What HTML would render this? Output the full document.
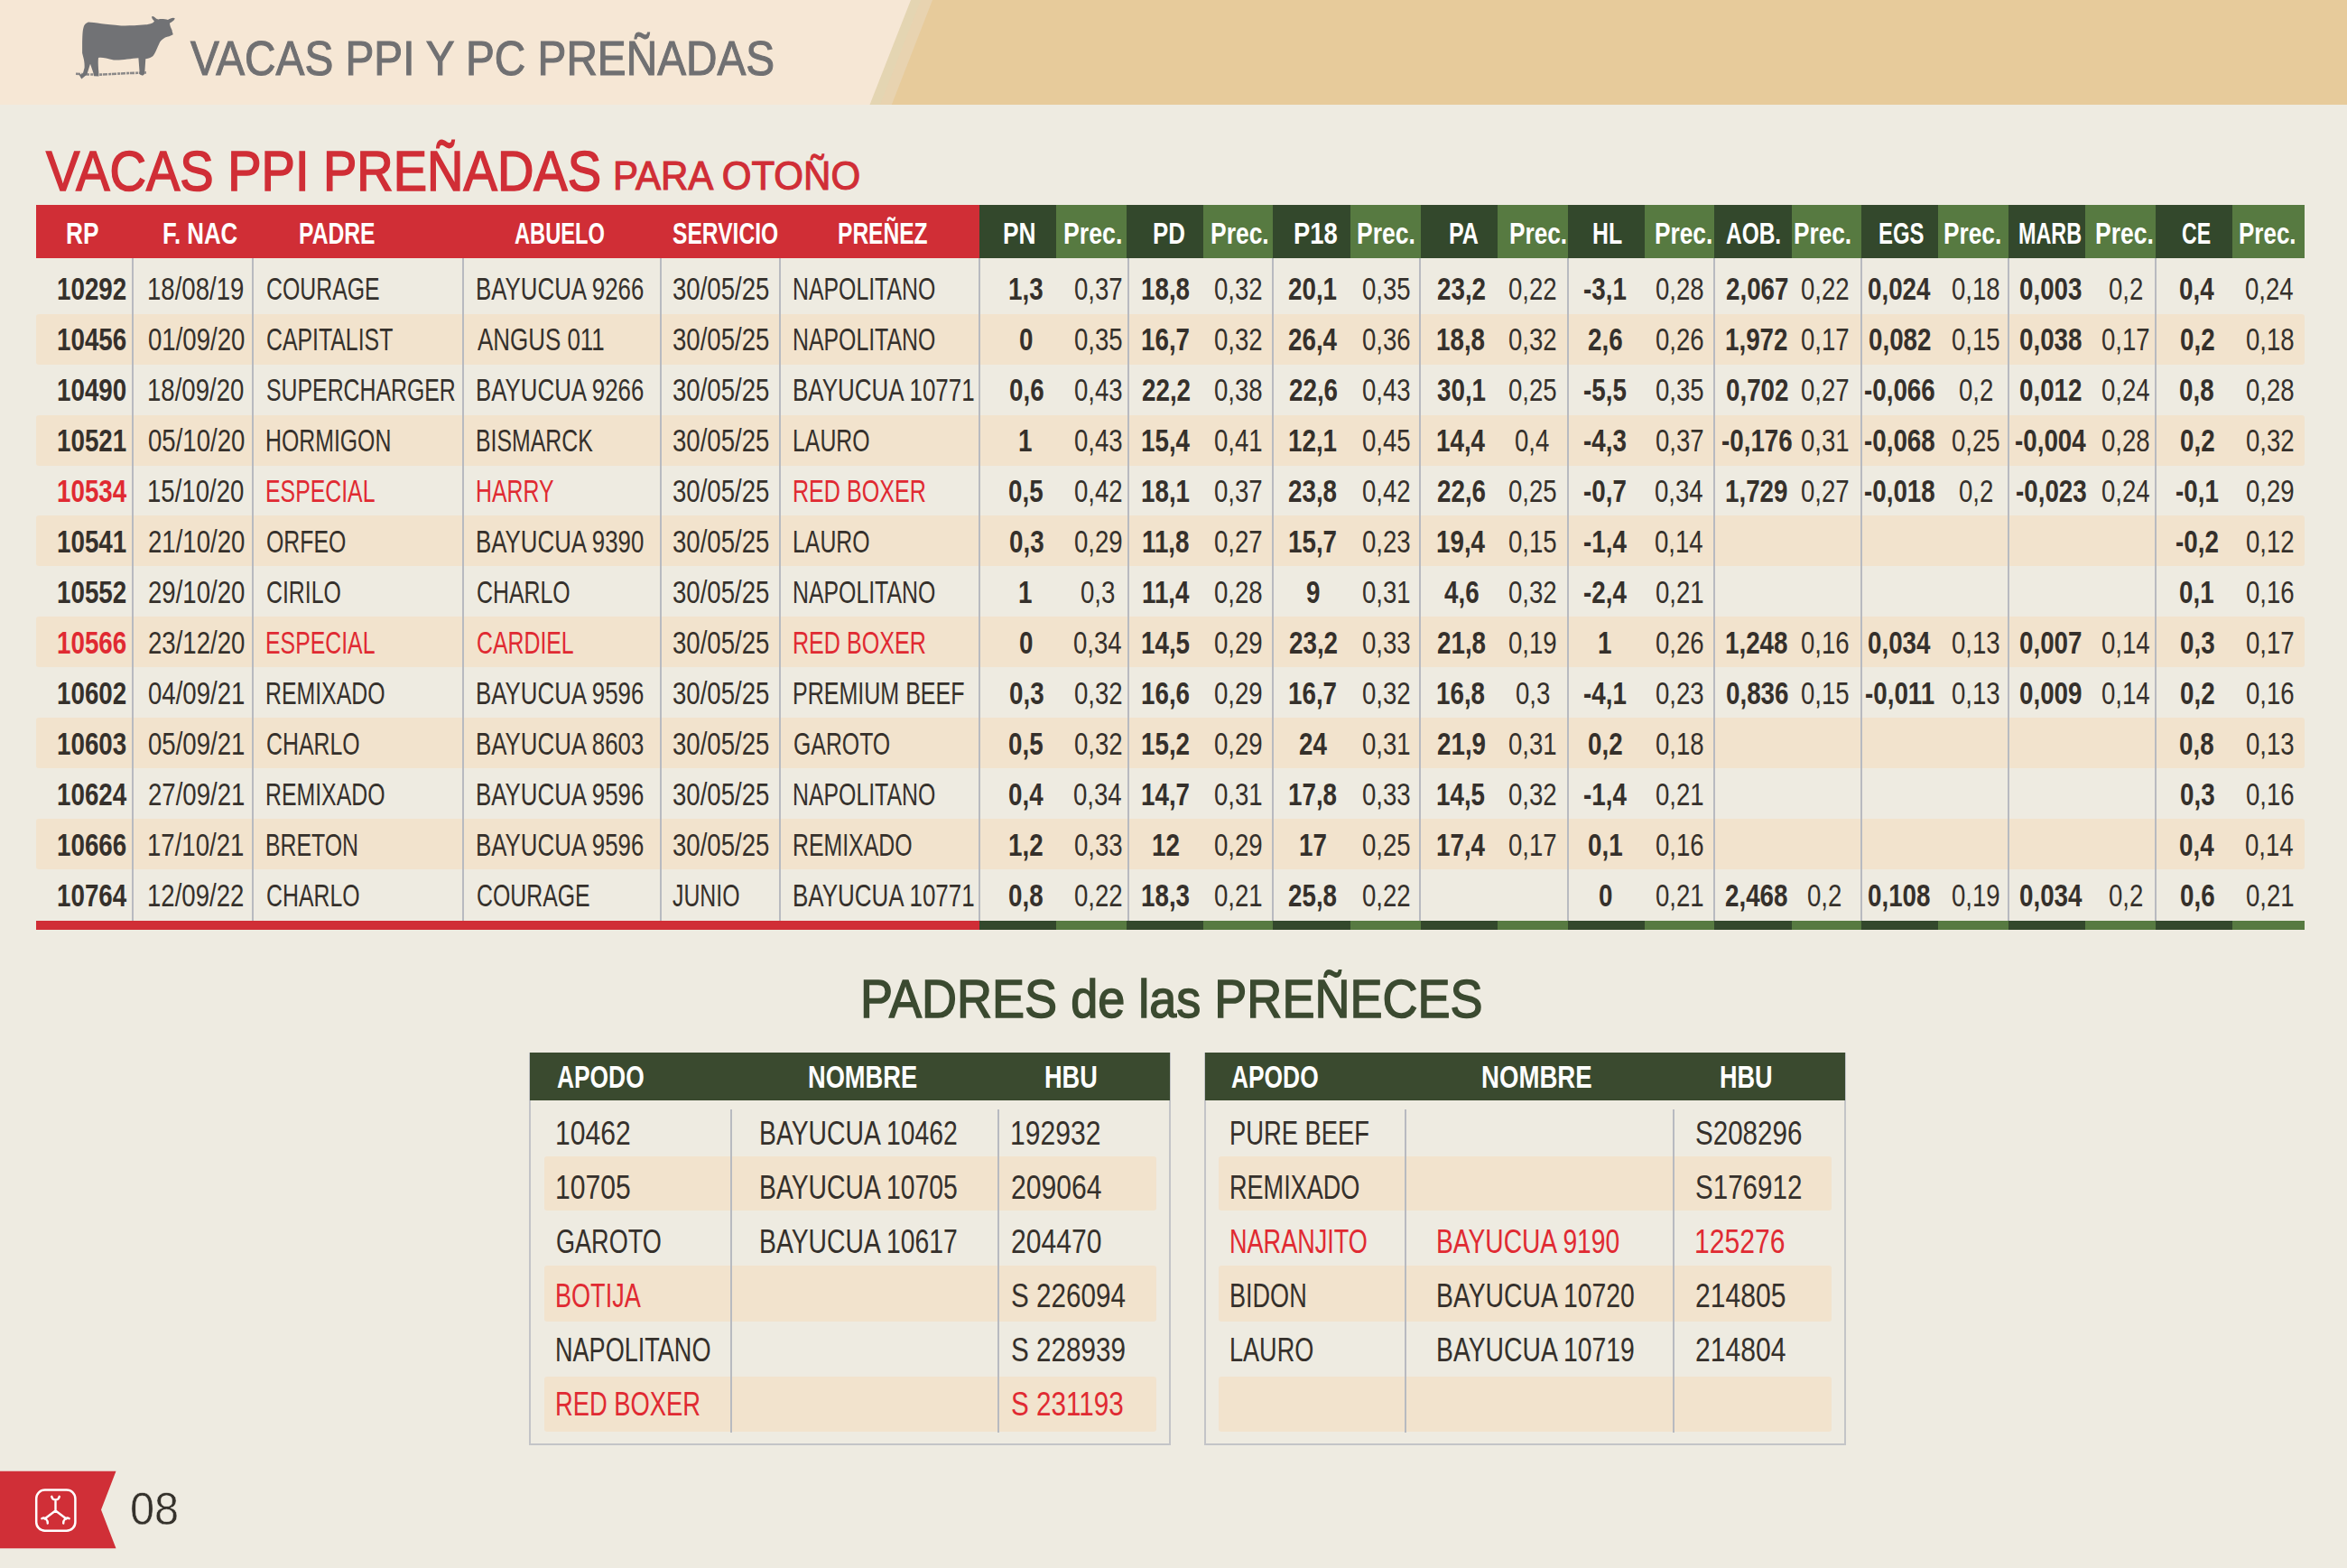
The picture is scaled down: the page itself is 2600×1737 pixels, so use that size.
<!DOCTYPE html>
<html><head><meta charset="utf-8"><style>
html,body{margin:0;padding:0;}
body{width:2600px;height:1737px;position:relative;overflow:hidden;background:#eeebe1;font-family:"Liberation Sans",sans-serif;}
.t{position:absolute;white-space:nowrap;line-height:1;transform-origin:0 0;}
</style></head><body>
<svg style="position:absolute;left:0;top:0" width="2600" height="116" viewBox="0 0 2600 116">
<rect x="0" y="0" width="2600" height="116" fill="#f6e7d5"/>
<polygon points="1009,0 2600,0 2600,116 963.5,116" fill="#e4d5b2"/>
<polygon points="1020,0 2600,0 2600,116 975,116" fill="#e8d3b0"/>
<polygon points="1033,0 2600,0 2600,116 987.8,116" fill="#e7cb9b"/>
</svg>
<svg style="position:absolute;left:0;top:0" width="260" height="116" viewBox="0 0 260 116">
<path fill="#717275" d="M97.9,24.6 C95,25.5 93,28 92.5,30.6 C91.5,34 91.2,40 91.1,50 L91.1,58.8 L92.5,64.2 C93.5,68 93.8,72 93.6,75 L91.7,82.1 L87.5,82.6 L90.3,87.5 L96.3,82.6 L100,70.7 L103.3,80.5 L104,84.2 L109.5,84.5 L109.3,79.4 C108.8,72 108.5,68 109,64 C112,63 118,64.5 126,66.4 C132,67.2 145,65 153.4,64.3 L154.8,82.6 L158,83.7 L160.2,82 L161.3,65.3 C165,64.5 168,63.5 169.5,62 C172,59 174.5,52 176.5,47.9 C177.5,45.5 179,43.8 183,41.4 C186,40.4 189,40 191.7,38.2 C191.5,36.5 190.5,35 190.6,33.5 C189.5,31 188.5,29 188.4,27.9 L187.9,25.7 C190,24.5 193,23 193.8,20.5 C193,19.5 191,19.5 189,20.5 C187.5,21 186.5,21.5 186,21.9 C183,21 178,20.5 175.4,21.4 L173.2,20.8 C171.5,19 169.5,17.5 168.5,18 C167.5,19 168.5,21 171,23.6 L169.4,25.2 C166,26.5 163,27.3 161.3,27.3 C150,28.4 140,28.6 134.2,28.4 C125,27.8 118,26.8 112.5,26.3 C106,25.5 101,24.6 97.9,24.6 Z"/>
<path fill="none" stroke="#717275" stroke-width="2.6" stroke-dasharray="5 1.2 3 0.8" opacity="0.8" d="M84,81.8 L97,82.4 L112,82.6 Q125,82 138,81.2 L152,80.8 L162,80.4"/>
</svg>
<div style="position:absolute;left:40.0px;top:347.6px;width:2513.0px;height:56.0px;background:#f2e3cd;border-radius:3px"></div><div style="position:absolute;left:40.0px;top:459.5px;width:2513.0px;height:56.0px;background:#f2e3cd;border-radius:3px"></div><div style="position:absolute;left:40.0px;top:571.4px;width:2513.0px;height:56.0px;background:#f2e3cd;border-radius:3px"></div><div style="position:absolute;left:40.0px;top:683.3px;width:2513.0px;height:56.0px;background:#f2e3cd;border-radius:3px"></div><div style="position:absolute;left:40.0px;top:795.2px;width:2513.0px;height:56.0px;background:#f2e3cd;border-radius:3px"></div><div style="position:absolute;left:40.0px;top:907.2px;width:2513.0px;height:56.0px;background:#f2e3cd;border-radius:3px"></div><div style="position:absolute;left:40.0px;top:227.2px;width:1044.7px;height:59.1px;background:#d02e36;"></div><div style="position:absolute;left:40.0px;top:1019.8px;width:1044.7px;height:10.0px;background:#d02e36;"></div><div style="position:absolute;left:1084.7px;top:227.2px;width:85.3px;height:59.1px;background:#33482c;"></div><div style="position:absolute;left:1170.0px;top:227.2px;width:77.6px;height:59.1px;background:#577a41;"></div><div style="position:absolute;left:1084.7px;top:1019.8px;width:85.3px;height:10.0px;background:#33482c;"></div><div style="position:absolute;left:1170.0px;top:1019.8px;width:77.6px;height:10.0px;background:#577a41;"></div><div style="position:absolute;left:1247.6px;top:227.2px;width:85.3px;height:59.1px;background:#33482c;"></div><div style="position:absolute;left:1332.9px;top:227.2px;width:77.5px;height:59.1px;background:#577a41;"></div><div style="position:absolute;left:1247.6px;top:1019.8px;width:85.3px;height:10.0px;background:#33482c;"></div><div style="position:absolute;left:1332.9px;top:1019.8px;width:77.5px;height:10.0px;background:#577a41;"></div><div style="position:absolute;left:1410.4px;top:227.2px;width:85.3px;height:59.1px;background:#33482c;"></div><div style="position:absolute;left:1495.7px;top:227.2px;width:77.9px;height:59.1px;background:#577a41;"></div><div style="position:absolute;left:1410.4px;top:1019.8px;width:85.3px;height:10.0px;background:#33482c;"></div><div style="position:absolute;left:1495.7px;top:1019.8px;width:77.9px;height:10.0px;background:#577a41;"></div><div style="position:absolute;left:1573.6px;top:227.2px;width:85.3px;height:59.1px;background:#33482c;"></div><div style="position:absolute;left:1658.9px;top:227.2px;width:77.7px;height:59.1px;background:#577a41;"></div><div style="position:absolute;left:1573.6px;top:1019.8px;width:85.3px;height:10.0px;background:#33482c;"></div><div style="position:absolute;left:1658.9px;top:1019.8px;width:77.7px;height:10.0px;background:#577a41;"></div><div style="position:absolute;left:1736.6px;top:227.2px;width:85.3px;height:59.1px;background:#33482c;"></div><div style="position:absolute;left:1821.9px;top:227.2px;width:77.5px;height:59.1px;background:#577a41;"></div><div style="position:absolute;left:1736.6px;top:1019.8px;width:85.3px;height:10.0px;background:#33482c;"></div><div style="position:absolute;left:1821.9px;top:1019.8px;width:77.5px;height:10.0px;background:#577a41;"></div><div style="position:absolute;left:1899.4px;top:227.2px;width:85.3px;height:59.1px;background:#33482c;"></div><div style="position:absolute;left:1984.7px;top:227.2px;width:77.2px;height:59.1px;background:#577a41;"></div><div style="position:absolute;left:1899.4px;top:1019.8px;width:85.3px;height:10.0px;background:#33482c;"></div><div style="position:absolute;left:1984.7px;top:1019.8px;width:77.2px;height:10.0px;background:#577a41;"></div><div style="position:absolute;left:2061.9px;top:227.2px;width:85.3px;height:59.1px;background:#33482c;"></div><div style="position:absolute;left:2147.2px;top:227.2px;width:77.4px;height:59.1px;background:#577a41;"></div><div style="position:absolute;left:2061.9px;top:1019.8px;width:85.3px;height:10.0px;background:#33482c;"></div><div style="position:absolute;left:2147.2px;top:1019.8px;width:77.4px;height:10.0px;background:#577a41;"></div><div style="position:absolute;left:2224.6px;top:227.2px;width:85.3px;height:59.1px;background:#33482c;"></div><div style="position:absolute;left:2309.9px;top:227.2px;width:77.9px;height:59.1px;background:#577a41;"></div><div style="position:absolute;left:2224.6px;top:1019.8px;width:85.3px;height:10.0px;background:#33482c;"></div><div style="position:absolute;left:2309.9px;top:1019.8px;width:77.9px;height:10.0px;background:#577a41;"></div><div style="position:absolute;left:2387.8px;top:227.2px;width:85.3px;height:59.1px;background:#33482c;"></div><div style="position:absolute;left:2473.1px;top:227.2px;width:79.9px;height:59.1px;background:#577a41;"></div><div style="position:absolute;left:2387.8px;top:1019.8px;width:85.3px;height:10.0px;background:#33482c;"></div><div style="position:absolute;left:2473.1px;top:1019.8px;width:79.9px;height:10.0px;background:#577a41;"></div><div style="position:absolute;left:146.1px;top:286.3px;width:2.0px;height:733.5px;background:#b8bac0;"></div><div style="position:absolute;left:279.3px;top:286.3px;width:2.0px;height:733.5px;background:#b8bac0;"></div><div style="position:absolute;left:511.6px;top:286.3px;width:2.0px;height:733.5px;background:#b8bac0;"></div><div style="position:absolute;left:731.0px;top:286.3px;width:2.0px;height:733.5px;background:#b8bac0;"></div><div style="position:absolute;left:863.4px;top:286.3px;width:2.0px;height:733.5px;background:#b8bac0;"></div><div style="position:absolute;left:1083.5px;top:286.3px;width:2.0px;height:733.5px;background:#b8bac0;"></div><div style="position:absolute;left:1249.0px;top:286.3px;width:2.0px;height:733.5px;background:#b8bac0;"></div><div style="position:absolute;left:1408.8px;top:286.3px;width:2.0px;height:733.5px;background:#b8bac0;"></div><div style="position:absolute;left:1572.0px;top:286.3px;width:2.0px;height:733.5px;background:#b8bac0;"></div><div style="position:absolute;left:1735.6px;top:286.3px;width:2.0px;height:733.5px;background:#b8bac0;"></div><div style="position:absolute;left:1897.5px;top:286.3px;width:2.0px;height:733.5px;background:#b8bac0;"></div><div style="position:absolute;left:2061.1px;top:286.3px;width:2.0px;height:733.5px;background:#b8bac0;"></div><div style="position:absolute;left:2223.5px;top:286.3px;width:2.0px;height:733.5px;background:#b8bac0;"></div><div style="position:absolute;left:2387.1px;top:286.3px;width:2.0px;height:733.5px;background:#b8bac0;"></div><div style="position:absolute;left:586.3px;top:1166.4px;width:710.8px;height:434.9px;background:#c3c4c7;"></div><div style="position:absolute;left:588.3px;top:1219.4px;width:706.8px;height:379.9px;background:#eeebe1;"></div><div style="position:absolute;left:587.3px;top:1166.4px;width:708.8px;height:53.0px;background:#3a4a2f;"></div><div style="position:absolute;left:602.8px;top:1281.0px;width:678.3px;height:59.7px;background:#f2e3cd;border-radius:3px"></div><div style="position:absolute;left:602.8px;top:1402.2px;width:678.3px;height:61.4px;background:#f2e3cd;border-radius:3px"></div><div style="position:absolute;left:602.8px;top:1524.6px;width:678.3px;height:61.4px;background:#f2e3cd;border-radius:3px"></div><div style="position:absolute;left:808.5px;top:1229.0px;width:2.0px;height:358.0px;background:#b8bac0;"></div><div style="position:absolute;left:1105.0px;top:1229.0px;width:2.0px;height:358.0px;background:#b8bac0;"></div><div style="position:absolute;left:1333.8px;top:1166.4px;width:711.2px;height:434.9px;background:#c3c4c7;"></div><div style="position:absolute;left:1335.8px;top:1219.4px;width:707.2px;height:379.9px;background:#eeebe1;"></div><div style="position:absolute;left:1334.8px;top:1166.4px;width:709.2px;height:53.0px;background:#3a4a2f;"></div><div style="position:absolute;left:1350.3px;top:1281.0px;width:678.7px;height:59.7px;background:#f2e3cd;border-radius:3px"></div><div style="position:absolute;left:1350.3px;top:1402.2px;width:678.7px;height:61.4px;background:#f2e3cd;border-radius:3px"></div><div style="position:absolute;left:1350.3px;top:1524.6px;width:678.7px;height:61.4px;background:#f2e3cd;border-radius:3px"></div><div style="position:absolute;left:1555.6px;top:1229.0px;width:2.0px;height:358.0px;background:#b8bac0;"></div><div style="position:absolute;left:1852.8px;top:1229.0px;width:2.0px;height:358.0px;background:#b8bac0;"></div>
<div class="t" style="left:72.76px;top:241.12px;font-size:34px;font-weight:bold;color:#ffffff;transform:scaleX(0.7721);">RP</div><div class="t" style="left:180.33px;top:241.12px;font-size:34px;font-weight:bold;color:#ffffff;transform:scaleX(0.7598);">F. NAC</div><div class="t" style="left:330.95px;top:241.12px;font-size:34px;font-weight:bold;color:#ffffff;transform:scaleX(0.7257);">PADRE</div><div class="t" style="left:569.55px;top:241.12px;font-size:34px;font-weight:bold;color:#ffffff;transform:scaleX(0.6967);">ABUELO</div><div class="t" style="left:744.90px;top:241.12px;font-size:34px;font-weight:bold;color:#ffffff;transform:scaleX(0.7236);">SERVICIO</div><div class="t" style="left:928.06px;top:241.12px;font-size:34px;font-weight:bold;color:#ffffff;transform:scaleX(0.7222);">PREÑEZ</div><div class="t" style="left:1111.25px;top:241.12px;font-size:34px;font-weight:bold;color:#ffffff;transform:scaleX(0.7738);">PN</div><div class="t" style="left:1178.03px;top:241.12px;font-size:34px;font-weight:bold;color:#ffffff;transform:scaleX(0.7852);">Prec.</div><div class="t" style="left:1276.98px;top:241.12px;font-size:34px;font-weight:bold;color:#ffffff;transform:scaleX(0.7610);">PD</div><div class="t" style="left:1341.44px;top:241.12px;font-size:34px;font-weight:bold;color:#ffffff;transform:scaleX(0.7776);">Prec.</div><div class="t" style="left:1432.69px;top:241.12px;font-size:34px;font-weight:bold;color:#ffffff;transform:scaleX(0.8057);">P18</div><div class="t" style="left:1503.19px;top:241.12px;font-size:34px;font-weight:bold;color:#ffffff;transform:scaleX(0.7789);">Prec.</div><div class="t" style="left:1604.77px;top:241.12px;font-size:34px;font-weight:bold;color:#ffffff;transform:scaleX(0.7378);">PA</div><div class="t" style="left:1671.71px;top:241.12px;font-size:34px;font-weight:bold;color:#ffffff;transform:scaleX(0.7714);">Prec.</div><div class="t" style="left:1763.99px;top:241.12px;font-size:34px;font-weight:bold;color:#ffffff;transform:scaleX(0.7308);">HL</div><div class="t" style="left:1832.65px;top:241.12px;font-size:34px;font-weight:bold;color:#ffffff;transform:scaleX(0.7726);">Prec.</div><div class="t" style="left:1911.95px;top:241.12px;font-size:34px;font-weight:bold;color:#ffffff;transform:scaleX(0.7193);">AOB.</div><div class="t" style="left:1987.21px;top:241.12px;font-size:34px;font-weight:bold;color:#ffffff;transform:scaleX(0.7714);">Prec.</div><div class="t" style="left:2080.89px;top:241.12px;font-size:34px;font-weight:bold;color:#ffffff;transform:scaleX(0.7031);">EGS</div><div class="t" style="left:2153.25px;top:241.12px;font-size:34px;font-weight:bold;color:#ffffff;transform:scaleX(0.7726);">Prec.</div><div class="t" style="left:2236.12px;top:241.12px;font-size:34px;font-weight:bold;color:#ffffff;transform:scaleX(0.6879);">MARB</div><div class="t" style="left:2321.39px;top:241.12px;font-size:34px;font-weight:bold;color:#ffffff;transform:scaleX(0.7789);">Prec.</div><div class="t" style="left:2417.37px;top:241.12px;font-size:34px;font-weight:bold;color:#ffffff;transform:scaleX(0.6783);">CE</div><div class="t" style="left:2479.72px;top:241.12px;font-size:34px;font-weight:bold;color:#ffffff;transform:scaleX(0.7639);">Prec.</div><div class="t" style="left:62.59px;top:303.20px;font-size:34.5px;font-weight:bold;color:#35302b;transform:scaleX(0.8050);">10292</div><div class="t" style="left:163.00px;top:303.20px;font-size:34.5px;font-weight:normal;color:#35302b;transform:scaleX(0.8000);">18/08/19</div><div class="t" style="left:294.58px;top:303.20px;font-size:34.5px;font-weight:normal;color:#35302b;transform:scaleX(0.7200);">COURAGE</div><div class="t" style="left:527.00px;top:303.20px;font-size:34.5px;font-weight:normal;color:#35302b;transform:scaleX(0.7495);">BAYUCUA 9266</div><div class="t" style="left:744.60px;top:303.20px;font-size:34.5px;font-weight:normal;color:#35302b;transform:scaleX(0.8000);">30/05/25</div><div class="t" style="left:877.96px;top:303.20px;font-size:34.5px;font-weight:normal;color:#35302b;transform:scaleX(0.7200);">NAPOLITANO</div><div class="t" style="left:1117.17px;top:303.20px;font-size:34.5px;font-weight:bold;color:#35302b;transform:scaleX(0.8050);">1,3</div><div class="t" style="left:1189.72px;top:303.20px;font-size:34.5px;font-weight:normal;color:#35302b;transform:scaleX(0.8000);">0,37</div><div class="t" style="left:1264.04px;top:303.20px;font-size:34.5px;font-weight:bold;color:#35302b;transform:scaleX(0.8050);">18,8</div><div class="t" style="left:1344.72px;top:303.20px;font-size:34.5px;font-weight:normal;color:#35302b;transform:scaleX(0.8000);">0,32</div><div class="t" style="left:1427.25px;top:303.20px;font-size:34.5px;font-weight:bold;color:#35302b;transform:scaleX(0.8050);">20,1</div><div class="t" style="left:1508.82px;top:303.20px;font-size:34.5px;font-weight:normal;color:#35302b;transform:scaleX(0.8000);">0,35</div><div class="t" style="left:1592.05px;top:303.20px;font-size:34.5px;font-weight:bold;color:#35302b;transform:scaleX(0.8050);">23,2</div><div class="t" style="left:1671.22px;top:303.20px;font-size:34.5px;font-weight:normal;color:#35302b;transform:scaleX(0.8000);">0,22</div><div class="t" style="left:1753.94px;top:303.20px;font-size:34.5px;font-weight:bold;color:#35302b;transform:scaleX(0.8050);">-3,1</div><div class="t" style="left:1833.82px;top:303.20px;font-size:34.5px;font-weight:normal;color:#35302b;transform:scaleX(0.8000);">0,28</div><div class="t" style="left:1911.83px;top:303.20px;font-size:34.5px;font-weight:bold;color:#35302b;transform:scaleX(0.8050);">2,067</div><div class="t" style="left:1994.52px;top:303.20px;font-size:34.5px;font-weight:normal;color:#35302b;transform:scaleX(0.8000);">0,22</div><div class="t" style="left:2069.42px;top:303.20px;font-size:34.5px;font-weight:bold;color:#35302b;transform:scaleX(0.8050);">0,024</div><div class="t" style="left:2162.22px;top:303.20px;font-size:34.5px;font-weight:normal;color:#35302b;transform:scaleX(0.8000);">0,18</div><div class="t" style="left:2237.33px;top:303.20px;font-size:34.5px;font-weight:bold;color:#35302b;transform:scaleX(0.8050);">0,003</div><div class="t" style="left:2335.79px;top:303.20px;font-size:34.5px;font-weight:normal;color:#35302b;transform:scaleX(0.8000);">0,2</div><div class="t" style="left:2414.27px;top:303.20px;font-size:34.5px;font-weight:bold;color:#35302b;transform:scaleX(0.8050);">0,4</div><div class="t" style="left:2487.42px;top:303.20px;font-size:34.5px;font-weight:normal;color:#35302b;transform:scaleX(0.8000);">0,24</div><div class="t" style="left:62.59px;top:359.16px;font-size:34.5px;font-weight:bold;color:#35302b;transform:scaleX(0.8050);">10456</div><div class="t" style="left:163.80px;top:359.16px;font-size:34.5px;font-weight:normal;color:#35302b;transform:scaleX(0.8000);">01/09/20</div><div class="t" style="left:294.58px;top:359.16px;font-size:34.5px;font-weight:normal;color:#35302b;transform:scaleX(0.7200);">CAPITALIST</div><div class="t" style="left:528.50px;top:359.16px;font-size:34.5px;font-weight:normal;color:#35302b;transform:scaleX(0.7516);">ANGUS 011</div><div class="t" style="left:744.60px;top:359.16px;font-size:34.5px;font-weight:normal;color:#35302b;transform:scaleX(0.8000);">30/05/25</div><div class="t" style="left:877.96px;top:359.16px;font-size:34.5px;font-weight:normal;color:#35302b;transform:scaleX(0.7200);">NAPOLITANO</div><div class="t" style="left:1129.15px;top:359.16px;font-size:34.5px;font-weight:bold;color:#35302b;transform:scaleX(0.8050);">0</div><div class="t" style="left:1189.72px;top:359.16px;font-size:34.5px;font-weight:normal;color:#35302b;transform:scaleX(0.8000);">0,35</div><div class="t" style="left:1264.45px;top:359.16px;font-size:34.5px;font-weight:bold;color:#35302b;transform:scaleX(0.8050);">16,7</div><div class="t" style="left:1344.72px;top:359.16px;font-size:34.5px;font-weight:normal;color:#35302b;transform:scaleX(0.8000);">0,32</div><div class="t" style="left:1427.25px;top:359.16px;font-size:34.5px;font-weight:bold;color:#35302b;transform:scaleX(0.8050);">26,4</div><div class="t" style="left:1508.82px;top:359.16px;font-size:34.5px;font-weight:normal;color:#35302b;transform:scaleX(0.8000);">0,36</div><div class="t" style="left:1591.24px;top:359.16px;font-size:34.5px;font-weight:bold;color:#35302b;transform:scaleX(0.8050);">18,8</div><div class="t" style="left:1671.22px;top:359.16px;font-size:34.5px;font-weight:normal;color:#35302b;transform:scaleX(0.8000);">0,32</div><div class="t" style="left:1758.97px;top:359.16px;font-size:34.5px;font-weight:bold;color:#35302b;transform:scaleX(0.8050);">2,6</div><div class="t" style="left:1833.82px;top:359.16px;font-size:34.5px;font-weight:normal;color:#35302b;transform:scaleX(0.8000);">0,26</div><div class="t" style="left:1911.42px;top:359.16px;font-size:34.5px;font-weight:bold;color:#35302b;transform:scaleX(0.8050);">1,972</div><div class="t" style="left:1994.52px;top:359.16px;font-size:34.5px;font-weight:normal;color:#35302b;transform:scaleX(0.8000);">0,17</div><div class="t" style="left:2069.83px;top:359.16px;font-size:34.5px;font-weight:bold;color:#35302b;transform:scaleX(0.8050);">0,082</div><div class="t" style="left:2162.22px;top:359.16px;font-size:34.5px;font-weight:normal;color:#35302b;transform:scaleX(0.8000);">0,15</div><div class="t" style="left:2236.92px;top:359.16px;font-size:34.5px;font-weight:bold;color:#35302b;transform:scaleX(0.8050);">0,038</div><div class="t" style="left:2328.12px;top:359.16px;font-size:34.5px;font-weight:normal;color:#35302b;transform:scaleX(0.8000);">0,17</div><div class="t" style="left:2414.67px;top:359.16px;font-size:34.5px;font-weight:bold;color:#35302b;transform:scaleX(0.8050);">0,2</div><div class="t" style="left:2487.82px;top:359.16px;font-size:34.5px;font-weight:normal;color:#35302b;transform:scaleX(0.8000);">0,18</div><div class="t" style="left:62.59px;top:415.12px;font-size:34.5px;font-weight:bold;color:#35302b;transform:scaleX(0.8050);">10490</div><div class="t" style="left:163.00px;top:415.12px;font-size:34.5px;font-weight:normal;color:#35302b;transform:scaleX(0.8000);">18/09/20</div><div class="t" style="left:294.58px;top:415.12px;font-size:34.5px;font-weight:normal;color:#35302b;transform:scaleX(0.7200);">SUPERCHARGER</div><div class="t" style="left:527.00px;top:415.12px;font-size:34.5px;font-weight:normal;color:#35302b;transform:scaleX(0.7495);">BAYUCUA 9266</div><div class="t" style="left:744.60px;top:415.12px;font-size:34.5px;font-weight:normal;color:#35302b;transform:scaleX(0.8000);">30/05/25</div><div class="t" style="left:877.89px;top:415.12px;font-size:34.5px;font-weight:normal;color:#35302b;transform:scaleX(0.7530);">BAYUCUA 10771</div><div class="t" style="left:1117.57px;top:415.12px;font-size:34.5px;font-weight:bold;color:#35302b;transform:scaleX(0.8050);">0,6</div><div class="t" style="left:1189.72px;top:415.12px;font-size:34.5px;font-weight:normal;color:#35302b;transform:scaleX(0.8000);">0,43</div><div class="t" style="left:1264.85px;top:415.12px;font-size:34.5px;font-weight:bold;color:#35302b;transform:scaleX(0.8050);">22,2</div><div class="t" style="left:1344.72px;top:415.12px;font-size:34.5px;font-weight:normal;color:#35302b;transform:scaleX(0.8000);">0,38</div><div class="t" style="left:1427.65px;top:415.12px;font-size:34.5px;font-weight:bold;color:#35302b;transform:scaleX(0.8050);">22,6</div><div class="t" style="left:1508.82px;top:415.12px;font-size:34.5px;font-weight:normal;color:#35302b;transform:scaleX(0.8000);">0,43</div><div class="t" style="left:1592.05px;top:415.12px;font-size:34.5px;font-weight:bold;color:#35302b;transform:scaleX(0.8050);">30,1</div><div class="t" style="left:1671.22px;top:415.12px;font-size:34.5px;font-weight:normal;color:#35302b;transform:scaleX(0.8000);">0,25</div><div class="t" style="left:1753.94px;top:415.12px;font-size:34.5px;font-weight:bold;color:#35302b;transform:scaleX(0.8050);">-5,5</div><div class="t" style="left:1833.82px;top:415.12px;font-size:34.5px;font-weight:normal;color:#35302b;transform:scaleX(0.8000);">0,35</div><div class="t" style="left:1911.83px;top:415.12px;font-size:34.5px;font-weight:bold;color:#35302b;transform:scaleX(0.8050);">0,702</div><div class="t" style="left:1994.52px;top:415.12px;font-size:34.5px;font-weight:normal;color:#35302b;transform:scaleX(0.8000);">0,27</div><div class="t" style="left:2065.20px;top:415.12px;font-size:34.5px;font-weight:bold;color:#35302b;transform:scaleX(0.8050);">-0,066</div><div class="t" style="left:2169.89px;top:415.12px;font-size:34.5px;font-weight:normal;color:#35302b;transform:scaleX(0.8000);">0,2</div><div class="t" style="left:2237.33px;top:415.12px;font-size:34.5px;font-weight:bold;color:#35302b;transform:scaleX(0.8050);">0,012</div><div class="t" style="left:2327.72px;top:415.12px;font-size:34.5px;font-weight:normal;color:#35302b;transform:scaleX(0.8000);">0,24</div><div class="t" style="left:2414.27px;top:415.12px;font-size:34.5px;font-weight:bold;color:#35302b;transform:scaleX(0.8050);">0,8</div><div class="t" style="left:2487.82px;top:415.12px;font-size:34.5px;font-weight:normal;color:#35302b;transform:scaleX(0.8000);">0,28</div><div class="t" style="left:62.59px;top:471.08px;font-size:34.5px;font-weight:bold;color:#35302b;transform:scaleX(0.8050);">10521</div><div class="t" style="left:163.80px;top:471.08px;font-size:34.5px;font-weight:normal;color:#35302b;transform:scaleX(0.8000);">05/10/20</div><div class="t" style="left:293.86px;top:471.08px;font-size:34.5px;font-weight:normal;color:#35302b;transform:scaleX(0.7200);">HORMIGON</div><div class="t" style="left:527.06px;top:471.08px;font-size:34.5px;font-weight:normal;color:#35302b;transform:scaleX(0.7200);">BISMARCK</div><div class="t" style="left:744.60px;top:471.08px;font-size:34.5px;font-weight:normal;color:#35302b;transform:scaleX(0.8000);">30/05/25</div><div class="t" style="left:877.96px;top:471.08px;font-size:34.5px;font-weight:normal;color:#35302b;transform:scaleX(0.7200);">LAURO</div><div class="t" style="left:1128.35px;top:471.08px;font-size:34.5px;font-weight:bold;color:#35302b;transform:scaleX(0.8050);">1</div><div class="t" style="left:1189.72px;top:471.08px;font-size:34.5px;font-weight:normal;color:#35302b;transform:scaleX(0.8000);">0,43</div><div class="t" style="left:1264.04px;top:471.08px;font-size:34.5px;font-weight:bold;color:#35302b;transform:scaleX(0.8050);">15,4</div><div class="t" style="left:1344.72px;top:471.08px;font-size:34.5px;font-weight:normal;color:#35302b;transform:scaleX(0.8000);">0,41</div><div class="t" style="left:1426.84px;top:471.08px;font-size:34.5px;font-weight:bold;color:#35302b;transform:scaleX(0.8050);">12,1</div><div class="t" style="left:1508.82px;top:471.08px;font-size:34.5px;font-weight:normal;color:#35302b;transform:scaleX(0.8000);">0,45</div><div class="t" style="left:1591.24px;top:471.08px;font-size:34.5px;font-weight:bold;color:#35302b;transform:scaleX(0.8050);">14,4</div><div class="t" style="left:1678.49px;top:471.08px;font-size:34.5px;font-weight:normal;color:#35302b;transform:scaleX(0.8000);">0,4</div><div class="t" style="left:1754.35px;top:471.08px;font-size:34.5px;font-weight:bold;color:#35302b;transform:scaleX(0.8050);">-4,3</div><div class="t" style="left:1833.82px;top:471.08px;font-size:34.5px;font-weight:normal;color:#35302b;transform:scaleX(0.8000);">0,37</div><div class="t" style="left:1907.20px;top:471.08px;font-size:34.5px;font-weight:bold;color:#35302b;transform:scaleX(0.8050);">-0,176</div><div class="t" style="left:1994.52px;top:471.08px;font-size:34.5px;font-weight:normal;color:#35302b;transform:scaleX(0.8000);">0,31</div><div class="t" style="left:2064.80px;top:471.08px;font-size:34.5px;font-weight:bold;color:#35302b;transform:scaleX(0.8050);">-0,068</div><div class="t" style="left:2162.22px;top:471.08px;font-size:34.5px;font-weight:normal;color:#35302b;transform:scaleX(0.8000);">0,25</div><div class="t" style="left:2232.30px;top:471.08px;font-size:34.5px;font-weight:bold;color:#35302b;transform:scaleX(0.8050);">-0,004</div><div class="t" style="left:2328.12px;top:471.08px;font-size:34.5px;font-weight:normal;color:#35302b;transform:scaleX(0.8000);">0,28</div><div class="t" style="left:2414.67px;top:471.08px;font-size:34.5px;font-weight:bold;color:#35302b;transform:scaleX(0.8050);">0,2</div><div class="t" style="left:2487.82px;top:471.08px;font-size:34.5px;font-weight:normal;color:#35302b;transform:scaleX(0.8000);">0,32</div><div class="t" style="left:62.59px;top:527.04px;font-size:34.5px;font-weight:bold;color:#e02a32;transform:scaleX(0.8050);">10534</div><div class="t" style="left:163.00px;top:527.04px;font-size:34.5px;font-weight:normal;color:#35302b;transform:scaleX(0.8000);">15/10/20</div><div class="t" style="left:293.86px;top:527.04px;font-size:34.5px;font-weight:normal;color:#e02a32;transform:scaleX(0.7200);">ESPECIAL</div><div class="t" style="left:527.06px;top:527.04px;font-size:34.5px;font-weight:normal;color:#e02a32;transform:scaleX(0.7200);">HARRY</div><div class="t" style="left:744.60px;top:527.04px;font-size:34.5px;font-weight:normal;color:#35302b;transform:scaleX(0.8000);">30/05/25</div><div class="t" style="left:877.95px;top:527.04px;font-size:34.5px;font-weight:normal;color:#e02a32;transform:scaleX(0.7274);">RED BOXER</div><div class="t" style="left:1117.17px;top:527.04px;font-size:34.5px;font-weight:bold;color:#35302b;transform:scaleX(0.8050);">0,5</div><div class="t" style="left:1189.72px;top:527.04px;font-size:34.5px;font-weight:normal;color:#35302b;transform:scaleX(0.8000);">0,42</div><div class="t" style="left:1264.04px;top:527.04px;font-size:34.5px;font-weight:bold;color:#35302b;transform:scaleX(0.8050);">18,1</div><div class="t" style="left:1344.72px;top:527.04px;font-size:34.5px;font-weight:normal;color:#35302b;transform:scaleX(0.8000);">0,37</div><div class="t" style="left:1427.25px;top:527.04px;font-size:34.5px;font-weight:bold;color:#35302b;transform:scaleX(0.8050);">23,8</div><div class="t" style="left:1508.82px;top:527.04px;font-size:34.5px;font-weight:normal;color:#35302b;transform:scaleX(0.8000);">0,42</div><div class="t" style="left:1592.05px;top:527.04px;font-size:34.5px;font-weight:bold;color:#35302b;transform:scaleX(0.8050);">22,6</div><div class="t" style="left:1671.22px;top:527.04px;font-size:34.5px;font-weight:normal;color:#35302b;transform:scaleX(0.8000);">0,25</div><div class="t" style="left:1754.35px;top:527.04px;font-size:34.5px;font-weight:bold;color:#35302b;transform:scaleX(0.8050);">-0,7</div><div class="t" style="left:1833.42px;top:527.04px;font-size:34.5px;font-weight:normal;color:#35302b;transform:scaleX(0.8000);">0,34</div><div class="t" style="left:1911.42px;top:527.04px;font-size:34.5px;font-weight:bold;color:#35302b;transform:scaleX(0.8050);">1,729</div><div class="t" style="left:1994.52px;top:527.04px;font-size:34.5px;font-weight:normal;color:#35302b;transform:scaleX(0.8000);">0,27</div><div class="t" style="left:2064.80px;top:527.04px;font-size:34.5px;font-weight:bold;color:#35302b;transform:scaleX(0.8050);">-0,018</div><div class="t" style="left:2169.89px;top:527.04px;font-size:34.5px;font-weight:normal;color:#35302b;transform:scaleX(0.8000);">0,2</div><div class="t" style="left:2232.70px;top:527.04px;font-size:34.5px;font-weight:bold;color:#35302b;transform:scaleX(0.8050);">-0,023</div><div class="t" style="left:2327.72px;top:527.04px;font-size:34.5px;font-weight:normal;color:#35302b;transform:scaleX(0.8000);">0,24</div><div class="t" style="left:2409.64px;top:527.04px;font-size:34.5px;font-weight:bold;color:#35302b;transform:scaleX(0.8050);">-0,1</div><div class="t" style="left:2487.82px;top:527.04px;font-size:34.5px;font-weight:normal;color:#35302b;transform:scaleX(0.8000);">0,29</div><div class="t" style="left:62.59px;top:583.00px;font-size:34.5px;font-weight:bold;color:#35302b;transform:scaleX(0.8050);">10541</div><div class="t" style="left:163.80px;top:583.00px;font-size:34.5px;font-weight:normal;color:#35302b;transform:scaleX(0.8000);">21/10/20</div><div class="t" style="left:294.58px;top:583.00px;font-size:34.5px;font-weight:normal;color:#35302b;transform:scaleX(0.7200);">ORFEO</div><div class="t" style="left:527.00px;top:583.00px;font-size:34.5px;font-weight:normal;color:#35302b;transform:scaleX(0.7495);">BAYUCUA 9390</div><div class="t" style="left:744.60px;top:583.00px;font-size:34.5px;font-weight:normal;color:#35302b;transform:scaleX(0.8000);">30/05/25</div><div class="t" style="left:877.96px;top:583.00px;font-size:34.5px;font-weight:normal;color:#35302b;transform:scaleX(0.7200);">LAURO</div><div class="t" style="left:1117.57px;top:583.00px;font-size:34.5px;font-weight:bold;color:#35302b;transform:scaleX(0.8050);">0,3</div><div class="t" style="left:1189.72px;top:583.00px;font-size:34.5px;font-weight:normal;color:#35302b;transform:scaleX(0.8000);">0,29</div><div class="t" style="left:1264.81px;top:583.00px;font-size:34.5px;font-weight:bold;color:#35302b;transform:scaleX(0.8050);">11,8</div><div class="t" style="left:1344.72px;top:583.00px;font-size:34.5px;font-weight:normal;color:#35302b;transform:scaleX(0.8000);">0,27</div><div class="t" style="left:1427.25px;top:583.00px;font-size:34.5px;font-weight:bold;color:#35302b;transform:scaleX(0.8050);">15,7</div><div class="t" style="left:1508.82px;top:583.00px;font-size:34.5px;font-weight:normal;color:#35302b;transform:scaleX(0.8000);">0,23</div><div class="t" style="left:1591.24px;top:583.00px;font-size:34.5px;font-weight:bold;color:#35302b;transform:scaleX(0.8050);">19,4</div><div class="t" style="left:1671.22px;top:583.00px;font-size:34.5px;font-weight:normal;color:#35302b;transform:scaleX(0.8000);">0,15</div><div class="t" style="left:1753.94px;top:583.00px;font-size:34.5px;font-weight:bold;color:#35302b;transform:scaleX(0.8050);">-1,4</div><div class="t" style="left:1833.42px;top:583.00px;font-size:34.5px;font-weight:normal;color:#35302b;transform:scaleX(0.8000);">0,14</div><div class="t" style="left:2410.05px;top:583.00px;font-size:34.5px;font-weight:bold;color:#35302b;transform:scaleX(0.8050);">-0,2</div><div class="t" style="left:2487.82px;top:583.00px;font-size:34.5px;font-weight:normal;color:#35302b;transform:scaleX(0.8000);">0,12</div><div class="t" style="left:62.59px;top:638.96px;font-size:34.5px;font-weight:bold;color:#35302b;transform:scaleX(0.8050);">10552</div><div class="t" style="left:163.80px;top:638.96px;font-size:34.5px;font-weight:normal;color:#35302b;transform:scaleX(0.8000);">29/10/20</div><div class="t" style="left:294.58px;top:638.96px;font-size:34.5px;font-weight:normal;color:#35302b;transform:scaleX(0.7200);">CIRILO</div><div class="t" style="left:527.78px;top:638.96px;font-size:34.5px;font-weight:normal;color:#35302b;transform:scaleX(0.7200);">CHARLO</div><div class="t" style="left:744.60px;top:638.96px;font-size:34.5px;font-weight:normal;color:#35302b;transform:scaleX(0.8000);">30/05/25</div><div class="t" style="left:877.96px;top:638.96px;font-size:34.5px;font-weight:normal;color:#35302b;transform:scaleX(0.7200);">NAPOLITANO</div><div class="t" style="left:1128.35px;top:638.96px;font-size:34.5px;font-weight:bold;color:#35302b;transform:scaleX(0.8050);">1</div><div class="t" style="left:1197.39px;top:638.96px;font-size:34.5px;font-weight:normal;color:#35302b;transform:scaleX(0.8000);">0,3</div><div class="t" style="left:1264.81px;top:638.96px;font-size:34.5px;font-weight:bold;color:#35302b;transform:scaleX(0.8050);">11,4</div><div class="t" style="left:1344.72px;top:638.96px;font-size:34.5px;font-weight:normal;color:#35302b;transform:scaleX(0.8000);">0,28</div><div class="t" style="left:1446.95px;top:638.96px;font-size:34.5px;font-weight:bold;color:#35302b;transform:scaleX(0.8050);">9</div><div class="t" style="left:1508.82px;top:638.96px;font-size:34.5px;font-weight:normal;color:#35302b;transform:scaleX(0.8000);">0,31</div><div class="t" style="left:1600.17px;top:638.96px;font-size:34.5px;font-weight:bold;color:#35302b;transform:scaleX(0.8050);">4,6</div><div class="t" style="left:1671.22px;top:638.96px;font-size:34.5px;font-weight:normal;color:#35302b;transform:scaleX(0.8000);">0,32</div><div class="t" style="left:1753.94px;top:638.96px;font-size:34.5px;font-weight:bold;color:#35302b;transform:scaleX(0.8050);">-2,4</div><div class="t" style="left:1833.82px;top:638.96px;font-size:34.5px;font-weight:normal;color:#35302b;transform:scaleX(0.8000);">0,21</div><div class="t" style="left:2414.27px;top:638.96px;font-size:34.5px;font-weight:bold;color:#35302b;transform:scaleX(0.8050);">0,1</div><div class="t" style="left:2487.82px;top:638.96px;font-size:34.5px;font-weight:normal;color:#35302b;transform:scaleX(0.8000);">0,16</div><div class="t" style="left:62.59px;top:694.92px;font-size:34.5px;font-weight:bold;color:#e02a32;transform:scaleX(0.8050);">10566</div><div class="t" style="left:163.80px;top:694.92px;font-size:34.5px;font-weight:normal;color:#35302b;transform:scaleX(0.8000);">23/12/20</div><div class="t" style="left:293.86px;top:694.92px;font-size:34.5px;font-weight:normal;color:#e02a32;transform:scaleX(0.7200);">ESPECIAL</div><div class="t" style="left:527.78px;top:694.92px;font-size:34.5px;font-weight:normal;color:#e02a32;transform:scaleX(0.7200);">CARDIEL</div><div class="t" style="left:744.60px;top:694.92px;font-size:34.5px;font-weight:normal;color:#35302b;transform:scaleX(0.8000);">30/05/25</div><div class="t" style="left:877.95px;top:694.92px;font-size:34.5px;font-weight:normal;color:#e02a32;transform:scaleX(0.7274);">RED BOXER</div><div class="t" style="left:1129.15px;top:694.92px;font-size:34.5px;font-weight:bold;color:#35302b;transform:scaleX(0.8050);">0</div><div class="t" style="left:1189.32px;top:694.92px;font-size:34.5px;font-weight:normal;color:#35302b;transform:scaleX(0.8000);">0,34</div><div class="t" style="left:1264.04px;top:694.92px;font-size:34.5px;font-weight:bold;color:#35302b;transform:scaleX(0.8050);">14,5</div><div class="t" style="left:1344.72px;top:694.92px;font-size:34.5px;font-weight:normal;color:#35302b;transform:scaleX(0.8000);">0,29</div><div class="t" style="left:1427.65px;top:694.92px;font-size:34.5px;font-weight:bold;color:#35302b;transform:scaleX(0.8050);">23,2</div><div class="t" style="left:1508.82px;top:694.92px;font-size:34.5px;font-weight:normal;color:#35302b;transform:scaleX(0.8000);">0,33</div><div class="t" style="left:1591.65px;top:694.92px;font-size:34.5px;font-weight:bold;color:#35302b;transform:scaleX(0.8050);">21,8</div><div class="t" style="left:1671.22px;top:694.92px;font-size:34.5px;font-weight:normal;color:#35302b;transform:scaleX(0.8000);">0,19</div><div class="t" style="left:1769.75px;top:694.92px;font-size:34.5px;font-weight:bold;color:#35302b;transform:scaleX(0.8050);">1</div><div class="t" style="left:1833.82px;top:694.92px;font-size:34.5px;font-weight:normal;color:#35302b;transform:scaleX(0.8000);">0,26</div><div class="t" style="left:1911.02px;top:694.92px;font-size:34.5px;font-weight:bold;color:#35302b;transform:scaleX(0.8050);">1,248</div><div class="t" style="left:1994.52px;top:694.92px;font-size:34.5px;font-weight:normal;color:#35302b;transform:scaleX(0.8000);">0,16</div><div class="t" style="left:2069.42px;top:694.92px;font-size:34.5px;font-weight:bold;color:#35302b;transform:scaleX(0.8050);">0,034</div><div class="t" style="left:2162.22px;top:694.92px;font-size:34.5px;font-weight:normal;color:#35302b;transform:scaleX(0.8000);">0,13</div><div class="t" style="left:2237.33px;top:694.92px;font-size:34.5px;font-weight:bold;color:#35302b;transform:scaleX(0.8050);">0,007</div><div class="t" style="left:2327.72px;top:694.92px;font-size:34.5px;font-weight:normal;color:#35302b;transform:scaleX(0.8000);">0,14</div><div class="t" style="left:2414.67px;top:694.92px;font-size:34.5px;font-weight:bold;color:#35302b;transform:scaleX(0.8050);">0,3</div><div class="t" style="left:2487.82px;top:694.92px;font-size:34.5px;font-weight:normal;color:#35302b;transform:scaleX(0.8000);">0,17</div><div class="t" style="left:62.59px;top:750.88px;font-size:34.5px;font-weight:bold;color:#35302b;transform:scaleX(0.8050);">10602</div><div class="t" style="left:163.80px;top:750.88px;font-size:34.5px;font-weight:normal;color:#35302b;transform:scaleX(0.8000);">04/09/21</div><div class="t" style="left:293.86px;top:750.88px;font-size:34.5px;font-weight:normal;color:#35302b;transform:scaleX(0.7200);">REMIXADO</div><div class="t" style="left:527.00px;top:750.88px;font-size:34.5px;font-weight:normal;color:#35302b;transform:scaleX(0.7495);">BAYUCUA 9596</div><div class="t" style="left:744.60px;top:750.88px;font-size:34.5px;font-weight:normal;color:#35302b;transform:scaleX(0.8000);">30/05/25</div><div class="t" style="left:877.95px;top:750.88px;font-size:34.5px;font-weight:normal;color:#35302b;transform:scaleX(0.7255);">PREMIUM BEEF</div><div class="t" style="left:1117.57px;top:750.88px;font-size:34.5px;font-weight:bold;color:#35302b;transform:scaleX(0.8050);">0,3</div><div class="t" style="left:1189.72px;top:750.88px;font-size:34.5px;font-weight:normal;color:#35302b;transform:scaleX(0.8000);">0,32</div><div class="t" style="left:1264.45px;top:750.88px;font-size:34.5px;font-weight:bold;color:#35302b;transform:scaleX(0.8050);">16,6</div><div class="t" style="left:1344.72px;top:750.88px;font-size:34.5px;font-weight:normal;color:#35302b;transform:scaleX(0.8000);">0,29</div><div class="t" style="left:1427.25px;top:750.88px;font-size:34.5px;font-weight:bold;color:#35302b;transform:scaleX(0.8050);">16,7</div><div class="t" style="left:1508.82px;top:750.88px;font-size:34.5px;font-weight:normal;color:#35302b;transform:scaleX(0.8000);">0,32</div><div class="t" style="left:1591.24px;top:750.88px;font-size:34.5px;font-weight:bold;color:#35302b;transform:scaleX(0.8050);">16,8</div><div class="t" style="left:1678.89px;top:750.88px;font-size:34.5px;font-weight:normal;color:#35302b;transform:scaleX(0.8000);">0,3</div><div class="t" style="left:1753.94px;top:750.88px;font-size:34.5px;font-weight:bold;color:#35302b;transform:scaleX(0.8050);">-4,1</div><div class="t" style="left:1833.82px;top:750.88px;font-size:34.5px;font-weight:normal;color:#35302b;transform:scaleX(0.8000);">0,23</div><div class="t" style="left:1911.83px;top:750.88px;font-size:34.5px;font-weight:bold;color:#35302b;transform:scaleX(0.8050);">0,836</div><div class="t" style="left:1994.52px;top:750.88px;font-size:34.5px;font-weight:normal;color:#35302b;transform:scaleX(0.8000);">0,15</div><div class="t" style="left:2065.57px;top:750.88px;font-size:34.5px;font-weight:bold;color:#35302b;transform:scaleX(0.8050);">-0,011</div><div class="t" style="left:2162.22px;top:750.88px;font-size:34.5px;font-weight:normal;color:#35302b;transform:scaleX(0.8000);">0,13</div><div class="t" style="left:2237.33px;top:750.88px;font-size:34.5px;font-weight:bold;color:#35302b;transform:scaleX(0.8050);">0,009</div><div class="t" style="left:2327.72px;top:750.88px;font-size:34.5px;font-weight:normal;color:#35302b;transform:scaleX(0.8000);">0,14</div><div class="t" style="left:2414.67px;top:750.88px;font-size:34.5px;font-weight:bold;color:#35302b;transform:scaleX(0.8050);">0,2</div><div class="t" style="left:2487.82px;top:750.88px;font-size:34.5px;font-weight:normal;color:#35302b;transform:scaleX(0.8000);">0,16</div><div class="t" style="left:62.59px;top:806.84px;font-size:34.5px;font-weight:bold;color:#35302b;transform:scaleX(0.8050);">10603</div><div class="t" style="left:163.80px;top:806.84px;font-size:34.5px;font-weight:normal;color:#35302b;transform:scaleX(0.8000);">05/09/21</div><div class="t" style="left:294.58px;top:806.84px;font-size:34.5px;font-weight:normal;color:#35302b;transform:scaleX(0.7200);">CHARLO</div><div class="t" style="left:527.00px;top:806.84px;font-size:34.5px;font-weight:normal;color:#35302b;transform:scaleX(0.7495);">BAYUCUA 8603</div><div class="t" style="left:744.60px;top:806.84px;font-size:34.5px;font-weight:normal;color:#35302b;transform:scaleX(0.8000);">30/05/25</div><div class="t" style="left:878.68px;top:806.84px;font-size:34.5px;font-weight:normal;color:#35302b;transform:scaleX(0.7200);">GAROTO</div><div class="t" style="left:1117.17px;top:806.84px;font-size:34.5px;font-weight:bold;color:#35302b;transform:scaleX(0.8050);">0,5</div><div class="t" style="left:1189.72px;top:806.84px;font-size:34.5px;font-weight:normal;color:#35302b;transform:scaleX(0.8000);">0,32</div><div class="t" style="left:1264.45px;top:806.84px;font-size:34.5px;font-weight:bold;color:#35302b;transform:scaleX(0.8050);">15,2</div><div class="t" style="left:1344.72px;top:806.84px;font-size:34.5px;font-weight:normal;color:#35302b;transform:scaleX(0.8000);">0,29</div><div class="t" style="left:1438.83px;top:806.84px;font-size:34.5px;font-weight:bold;color:#35302b;transform:scaleX(0.8050);">24</div><div class="t" style="left:1508.82px;top:806.84px;font-size:34.5px;font-weight:normal;color:#35302b;transform:scaleX(0.8000);">0,31</div><div class="t" style="left:1592.05px;top:806.84px;font-size:34.5px;font-weight:bold;color:#35302b;transform:scaleX(0.8050);">21,9</div><div class="t" style="left:1671.22px;top:806.84px;font-size:34.5px;font-weight:normal;color:#35302b;transform:scaleX(0.8000);">0,31</div><div class="t" style="left:1758.97px;top:806.84px;font-size:34.5px;font-weight:bold;color:#35302b;transform:scaleX(0.8050);">0,2</div><div class="t" style="left:1833.82px;top:806.84px;font-size:34.5px;font-weight:normal;color:#35302b;transform:scaleX(0.8000);">0,18</div><div class="t" style="left:2414.27px;top:806.84px;font-size:34.5px;font-weight:bold;color:#35302b;transform:scaleX(0.8050);">0,8</div><div class="t" style="left:2487.82px;top:806.84px;font-size:34.5px;font-weight:normal;color:#35302b;transform:scaleX(0.8000);">0,13</div><div class="t" style="left:62.59px;top:862.80px;font-size:34.5px;font-weight:bold;color:#35302b;transform:scaleX(0.8050);">10624</div><div class="t" style="left:163.80px;top:862.80px;font-size:34.5px;font-weight:normal;color:#35302b;transform:scaleX(0.8000);">27/09/21</div><div class="t" style="left:293.86px;top:862.80px;font-size:34.5px;font-weight:normal;color:#35302b;transform:scaleX(0.7200);">REMIXADO</div><div class="t" style="left:527.00px;top:862.80px;font-size:34.5px;font-weight:normal;color:#35302b;transform:scaleX(0.7495);">BAYUCUA 9596</div><div class="t" style="left:744.60px;top:862.80px;font-size:34.5px;font-weight:normal;color:#35302b;transform:scaleX(0.8000);">30/05/25</div><div class="t" style="left:877.96px;top:862.80px;font-size:34.5px;font-weight:normal;color:#35302b;transform:scaleX(0.7200);">NAPOLITANO</div><div class="t" style="left:1117.17px;top:862.80px;font-size:34.5px;font-weight:bold;color:#35302b;transform:scaleX(0.8050);">0,4</div><div class="t" style="left:1189.32px;top:862.80px;font-size:34.5px;font-weight:normal;color:#35302b;transform:scaleX(0.8000);">0,34</div><div class="t" style="left:1264.45px;top:862.80px;font-size:34.5px;font-weight:bold;color:#35302b;transform:scaleX(0.8050);">14,7</div><div class="t" style="left:1344.72px;top:862.80px;font-size:34.5px;font-weight:normal;color:#35302b;transform:scaleX(0.8000);">0,31</div><div class="t" style="left:1426.84px;top:862.80px;font-size:34.5px;font-weight:bold;color:#35302b;transform:scaleX(0.8050);">17,8</div><div class="t" style="left:1508.82px;top:862.80px;font-size:34.5px;font-weight:normal;color:#35302b;transform:scaleX(0.8000);">0,33</div><div class="t" style="left:1591.24px;top:862.80px;font-size:34.5px;font-weight:bold;color:#35302b;transform:scaleX(0.8050);">14,5</div><div class="t" style="left:1671.22px;top:862.80px;font-size:34.5px;font-weight:normal;color:#35302b;transform:scaleX(0.8000);">0,32</div><div class="t" style="left:1753.94px;top:862.80px;font-size:34.5px;font-weight:bold;color:#35302b;transform:scaleX(0.8050);">-1,4</div><div class="t" style="left:1833.82px;top:862.80px;font-size:34.5px;font-weight:normal;color:#35302b;transform:scaleX(0.8000);">0,21</div><div class="t" style="left:2414.67px;top:862.80px;font-size:34.5px;font-weight:bold;color:#35302b;transform:scaleX(0.8050);">0,3</div><div class="t" style="left:2487.82px;top:862.80px;font-size:34.5px;font-weight:normal;color:#35302b;transform:scaleX(0.8000);">0,16</div><div class="t" style="left:62.59px;top:918.76px;font-size:34.5px;font-weight:bold;color:#35302b;transform:scaleX(0.8050);">10666</div><div class="t" style="left:163.00px;top:918.76px;font-size:34.5px;font-weight:normal;color:#35302b;transform:scaleX(0.8000);">17/10/21</div><div class="t" style="left:293.86px;top:918.76px;font-size:34.5px;font-weight:normal;color:#35302b;transform:scaleX(0.7200);">BRETON</div><div class="t" style="left:527.00px;top:918.76px;font-size:34.5px;font-weight:normal;color:#35302b;transform:scaleX(0.7495);">BAYUCUA 9596</div><div class="t" style="left:744.60px;top:918.76px;font-size:34.5px;font-weight:normal;color:#35302b;transform:scaleX(0.8000);">30/05/25</div><div class="t" style="left:877.96px;top:918.76px;font-size:34.5px;font-weight:normal;color:#35302b;transform:scaleX(0.7200);">REMIXADO</div><div class="t" style="left:1117.17px;top:918.76px;font-size:34.5px;font-weight:bold;color:#35302b;transform:scaleX(0.8050);">1,2</div><div class="t" style="left:1189.72px;top:918.76px;font-size:34.5px;font-weight:normal;color:#35302b;transform:scaleX(0.8000);">0,33</div><div class="t" style="left:1276.03px;top:918.76px;font-size:34.5px;font-weight:bold;color:#35302b;transform:scaleX(0.8050);">12</div><div class="t" style="left:1344.72px;top:918.76px;font-size:34.5px;font-weight:normal;color:#35302b;transform:scaleX(0.8000);">0,29</div><div class="t" style="left:1438.83px;top:918.76px;font-size:34.5px;font-weight:bold;color:#35302b;transform:scaleX(0.8050);">17</div><div class="t" style="left:1508.82px;top:918.76px;font-size:34.5px;font-weight:normal;color:#35302b;transform:scaleX(0.8000);">0,25</div><div class="t" style="left:1591.24px;top:918.76px;font-size:34.5px;font-weight:bold;color:#35302b;transform:scaleX(0.8050);">17,4</div><div class="t" style="left:1671.22px;top:918.76px;font-size:34.5px;font-weight:normal;color:#35302b;transform:scaleX(0.8000);">0,17</div><div class="t" style="left:1758.57px;top:918.76px;font-size:34.5px;font-weight:bold;color:#35302b;transform:scaleX(0.8050);">0,1</div><div class="t" style="left:1833.82px;top:918.76px;font-size:34.5px;font-weight:normal;color:#35302b;transform:scaleX(0.8000);">0,16</div><div class="t" style="left:2414.27px;top:918.76px;font-size:34.5px;font-weight:bold;color:#35302b;transform:scaleX(0.8050);">0,4</div><div class="t" style="left:2487.42px;top:918.76px;font-size:34.5px;font-weight:normal;color:#35302b;transform:scaleX(0.8000);">0,14</div><div class="t" style="left:62.59px;top:974.72px;font-size:34.5px;font-weight:bold;color:#35302b;transform:scaleX(0.8050);">10764</div><div class="t" style="left:163.00px;top:974.72px;font-size:34.5px;font-weight:normal;color:#35302b;transform:scaleX(0.8000);">12/09/22</div><div class="t" style="left:294.58px;top:974.72px;font-size:34.5px;font-weight:normal;color:#35302b;transform:scaleX(0.7200);">CHARLO</div><div class="t" style="left:527.78px;top:974.72px;font-size:34.5px;font-weight:normal;color:#35302b;transform:scaleX(0.7200);">COURAGE</div><div class="t" style="left:745.40px;top:974.72px;font-size:34.5px;font-weight:normal;color:#35302b;transform:scaleX(0.7200);">JUNIO</div><div class="t" style="left:877.89px;top:974.72px;font-size:34.5px;font-weight:normal;color:#35302b;transform:scaleX(0.7530);">BAYUCUA 10771</div><div class="t" style="left:1117.17px;top:974.72px;font-size:34.5px;font-weight:bold;color:#35302b;transform:scaleX(0.8050);">0,8</div><div class="t" style="left:1189.72px;top:974.72px;font-size:34.5px;font-weight:normal;color:#35302b;transform:scaleX(0.8000);">0,22</div><div class="t" style="left:1264.45px;top:974.72px;font-size:34.5px;font-weight:bold;color:#35302b;transform:scaleX(0.8050);">18,3</div><div class="t" style="left:1344.72px;top:974.72px;font-size:34.5px;font-weight:normal;color:#35302b;transform:scaleX(0.8000);">0,21</div><div class="t" style="left:1427.25px;top:974.72px;font-size:34.5px;font-weight:bold;color:#35302b;transform:scaleX(0.8050);">25,8</div><div class="t" style="left:1508.82px;top:974.72px;font-size:34.5px;font-weight:normal;color:#35302b;transform:scaleX(0.8000);">0,22</div><div class="t" style="left:1770.55px;top:974.72px;font-size:34.5px;font-weight:bold;color:#35302b;transform:scaleX(0.8050);">0</div><div class="t" style="left:1833.82px;top:974.72px;font-size:34.5px;font-weight:normal;color:#35302b;transform:scaleX(0.8000);">0,21</div><div class="t" style="left:1911.42px;top:974.72px;font-size:34.5px;font-weight:bold;color:#35302b;transform:scaleX(0.8050);">2,468</div><div class="t" style="left:2002.19px;top:974.72px;font-size:34.5px;font-weight:normal;color:#35302b;transform:scaleX(0.8000);">0,2</div><div class="t" style="left:2069.42px;top:974.72px;font-size:34.5px;font-weight:bold;color:#35302b;transform:scaleX(0.8050);">0,108</div><div class="t" style="left:2162.22px;top:974.72px;font-size:34.5px;font-weight:normal;color:#35302b;transform:scaleX(0.8000);">0,19</div><div class="t" style="left:2236.92px;top:974.72px;font-size:34.5px;font-weight:bold;color:#35302b;transform:scaleX(0.8050);">0,034</div><div class="t" style="left:2335.79px;top:974.72px;font-size:34.5px;font-weight:normal;color:#35302b;transform:scaleX(0.8000);">0,2</div><div class="t" style="left:2414.67px;top:974.72px;font-size:34.5px;font-weight:bold;color:#35302b;transform:scaleX(0.8050);">0,6</div><div class="t" style="left:2487.82px;top:974.72px;font-size:34.5px;font-weight:normal;color:#35302b;transform:scaleX(0.8000);">0,21</div><div class="t" style="left:210.90px;top:37.87px;font-size:54.5px;font-weight:normal;color:#707072;transform:scaleX(0.8756);-webkit-text-stroke:1.1px #707072">VACAS PPI Y PC PREÑADAS</div><div class="t" style="left:50.60px;top:158.29px;font-size:62.5px;font-weight:normal;color:#d02e36;transform:scaleX(0.8958);-webkit-text-stroke:1.6px #d02e36">VACAS PPI PREÑADAS</div><div class="t" style="left:679.10px;top:174.38px;font-size:43.5px;font-weight:normal;color:#d02e36;transform:scaleX(0.9666);-webkit-text-stroke:1.1px #d02e36">PARA OTOÑO</div><div class="t" style="left:953.30px;top:1076.81px;font-size:60px;font-weight:normal;color:#3b4a30;transform:scaleX(0.9004);-webkit-text-stroke:1.5px #3b4a30">PADRES de las PREÑECES</div><div class="t" style="left:143.63px;top:1646.67px;font-size:50px;font-weight:normal;color:#34312b;transform:scaleX(0.9733);-webkit-text-stroke:0.5px #eeebe1">08</div><div class="t" style="left:617.30px;top:1175.55px;font-size:35.5px;font-weight:bold;color:#ffffff;transform:scaleX(0.7425);">APODO</div><div class="t" style="left:894.67px;top:1175.55px;font-size:35.5px;font-weight:bold;color:#ffffff;transform:scaleX(0.7673);">NOMBRE</div><div class="t" style="left:1157.47px;top:1175.55px;font-size:35.5px;font-weight:bold;color:#ffffff;transform:scaleX(0.7643);">HBU</div><div class="t" style="left:615.15px;top:1237.50px;font-size:36.5px;font-weight:normal;color:#35302b;transform:scaleX(0.8240);">10462</div><div class="t" style="left:841.47px;top:1237.50px;font-size:36.5px;font-weight:normal;color:#35302b;transform:scaleX(0.7756);">BAYUCUA 10462</div><div class="t" style="left:1118.85px;top:1237.50px;font-size:36.5px;font-weight:normal;color:#35302b;transform:scaleX(0.8240);">192932</div><div class="t" style="left:615.15px;top:1297.60px;font-size:36.5px;font-weight:normal;color:#35302b;transform:scaleX(0.8240);">10705</div><div class="t" style="left:841.47px;top:1297.60px;font-size:36.5px;font-weight:normal;color:#35302b;transform:scaleX(0.7756);">BAYUCUA 10705</div><div class="t" style="left:1119.68px;top:1297.60px;font-size:36.5px;font-weight:normal;color:#35302b;transform:scaleX(0.8240);">209064</div><div class="t" style="left:616.06px;top:1357.70px;font-size:36.5px;font-weight:normal;color:#35302b;transform:scaleX(0.7416);">GAROTO</div><div class="t" style="left:841.47px;top:1357.70px;font-size:36.5px;font-weight:normal;color:#35302b;transform:scaleX(0.7756);">BAYUCUA 10617</div><div class="t" style="left:1119.68px;top:1357.70px;font-size:36.5px;font-weight:normal;color:#35302b;transform:scaleX(0.8240);">204470</div><div class="t" style="left:614.58px;top:1417.80px;font-size:36.5px;font-weight:normal;color:#e02a32;transform:scaleX(0.7416);">BOTIJA</div><div class="t" style="left:1119.69px;top:1417.80px;font-size:36.5px;font-weight:normal;color:#35302b;transform:scaleX(0.8117);">S 226094</div><div class="t" style="left:614.58px;top:1477.90px;font-size:36.5px;font-weight:normal;color:#35302b;transform:scaleX(0.7416);">NAPOLITANO</div><div class="t" style="left:1119.69px;top:1477.90px;font-size:36.5px;font-weight:normal;color:#35302b;transform:scaleX(0.8117);">S 228939</div><div class="t" style="left:614.55px;top:1538.00px;font-size:36.5px;font-weight:normal;color:#e02a32;transform:scaleX(0.7492);">RED BOXER</div><div class="t" style="left:1119.69px;top:1538.00px;font-size:36.5px;font-weight:normal;color:#e02a32;transform:scaleX(0.8117);">S 231193</div><div class="t" style="left:1363.90px;top:1175.55px;font-size:35.5px;font-weight:bold;color:#ffffff;transform:scaleX(0.7425);">APODO</div><div class="t" style="left:1640.84px;top:1175.55px;font-size:35.5px;font-weight:bold;color:#ffffff;transform:scaleX(0.7776);">NOMBRE</div><div class="t" style="left:1905.12px;top:1175.55px;font-size:35.5px;font-weight:bold;color:#ffffff;transform:scaleX(0.7629);">HBU</div><div class="t" style="left:1361.75px;top:1237.50px;font-size:36.5px;font-weight:normal;color:#35302b;transform:scaleX(0.7492);">PURE BEEF</div><div class="t" style="left:1877.59px;top:1237.50px;font-size:36.5px;font-weight:normal;color:#35302b;transform:scaleX(0.8100);">S208296</div><div class="t" style="left:1361.78px;top:1297.60px;font-size:36.5px;font-weight:normal;color:#35302b;transform:scaleX(0.7416);">REMIXADO</div><div class="t" style="left:1877.59px;top:1297.60px;font-size:36.5px;font-weight:normal;color:#35302b;transform:scaleX(0.8100);">S176912</div><div class="t" style="left:1361.78px;top:1357.70px;font-size:36.5px;font-weight:normal;color:#e02a32;transform:scaleX(0.7416);">NARANJITO</div><div class="t" style="left:1590.58px;top:1357.70px;font-size:36.5px;font-weight:normal;color:#e02a32;transform:scaleX(0.7720);">BAYUCUA 9190</div><div class="t" style="left:1876.75px;top:1357.70px;font-size:36.5px;font-weight:normal;color:#e02a32;transform:scaleX(0.8240);">125276</div><div class="t" style="left:1361.78px;top:1417.80px;font-size:36.5px;font-weight:normal;color:#35302b;transform:scaleX(0.7416);">BIDON</div><div class="t" style="left:1590.57px;top:1417.80px;font-size:36.5px;font-weight:normal;color:#35302b;transform:scaleX(0.7756);">BAYUCUA 10720</div><div class="t" style="left:1877.58px;top:1417.80px;font-size:36.5px;font-weight:normal;color:#35302b;transform:scaleX(0.8240);">214805</div><div class="t" style="left:1361.78px;top:1477.90px;font-size:36.5px;font-weight:normal;color:#35302b;transform:scaleX(0.7416);">LAURO</div><div class="t" style="left:1590.57px;top:1477.90px;font-size:36.5px;font-weight:normal;color:#35302b;transform:scaleX(0.7756);">BAYUCUA 10719</div><div class="t" style="left:1877.58px;top:1477.90px;font-size:36.5px;font-weight:normal;color:#35302b;transform:scaleX(0.8240);">214804</div>
<svg style="position:absolute;left:0;top:1629" width="140" height="88" viewBox="0 0 140 88">
<path fill="#d02f37" d="M0,0.8 L128.5,0.8 L112,43.6 L128.5,86.2 L0,86.2 Z"/>
<rect x="40.2" y="21.5" width="43.2" height="45.2" rx="9.5" ry="9.5" fill="none" stroke="#fff" stroke-width="2.5"/>
<path fill="none" stroke="#fff" stroke-width="2.4" stroke-linecap="round" stroke-linejoin="round" d="M61.5,32.5 L61.5,44.5 L49.5,53.5 M61.5,44.5 L73.5,53.5 M57.2,28.8 Q58,32.5 61.5,32.5 Q65,32.5 65.8,28.8 M46.3,53.2 Q49,51.5 51,53.8 Q53,56 52.8,58.5 M76.7,53.2 Q74,51.5 72,53.8 Q70,56 70.2,58.5"/>
</svg>
</body></html>
